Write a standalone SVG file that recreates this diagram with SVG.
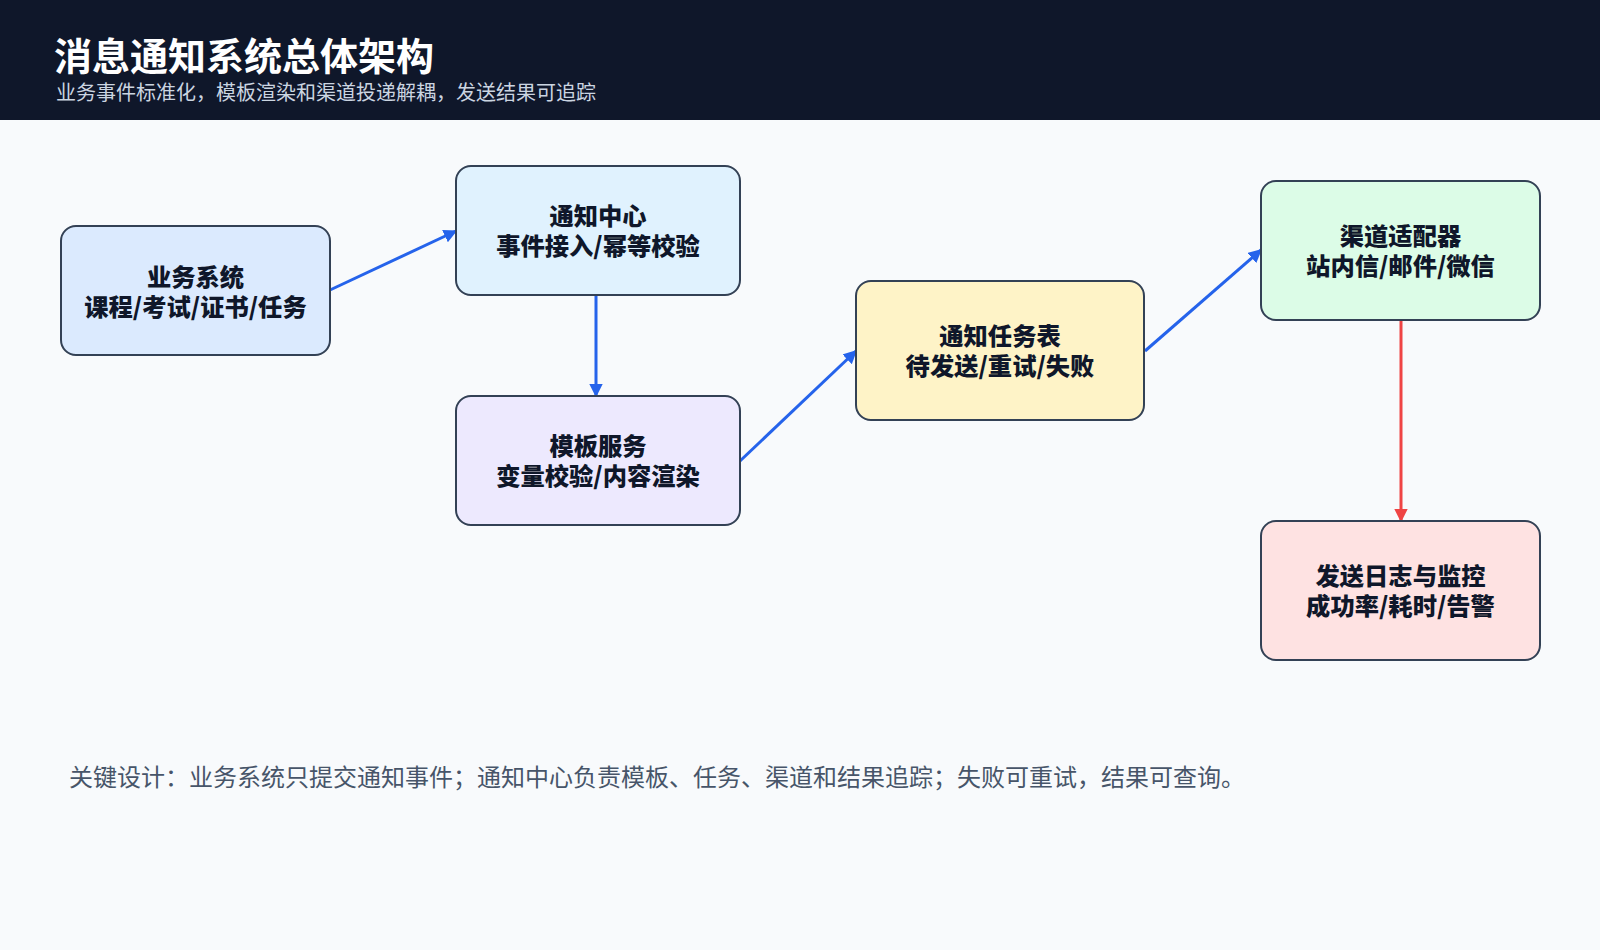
<svg xmlns="http://www.w3.org/2000/svg" width="1600" height="950" viewBox="0 0 1600 950">
<defs>
<style>
.node rect{stroke:#334155;stroke-width:2}
.nt{font-family:"Noto Sans CJK SC","Noto Sans",sans-serif;font-weight:900;font-size:24.3px;fill:#0f172a;text-anchor:middle}
.edge{fill:none;stroke-width:3}
.blue{stroke:#2563eb}
.red{stroke:#ef4444}
</style>
<marker id="ab" viewBox="0 0 10 10" refX="9" refY="5" markerWidth="4.5" markerHeight="4.5" orient="auto" markerUnits="strokeWidth"><path d="M0,0 L10,5 L0,10 z" fill="#2563eb"/></marker>
<marker id="ar" viewBox="0 0 10 10" refX="9" refY="5" markerWidth="4.5" markerHeight="4.5" orient="auto" markerUnits="strokeWidth"><path d="M0,0 L10,5 L0,10 z" fill="#ef4444"/></marker>
</defs>
<rect x="0" y="0" width="1600" height="950" fill="#f8fafc"/>
<g id="header">
<rect x="0" y="0" width="1600" height="120" fill="#0f172a"/>
<text x="54" y="70" font-family="Noto Sans CJK SC, Noto Sans, sans-serif" font-weight="700" font-size="38" fill="#ffffff">消息通知系统总体架构</text>
<text x="56" y="100" font-family="Noto Sans CJK SC, Noto Sans, sans-serif" font-size="20" fill="#cbd5e1">业务事件标准化，模板渲染和渠道投递解耦，发送结果可追踪</text>
</g>
<g id="connectors">
<line class="edge blue" x1="330" y1="290" x2="456" y2="231" marker-end="url(#ab)"/>
<line class="edge blue" x1="596" y1="296" x2="596" y2="396" marker-end="url(#ab)"/>
<line class="edge blue" x1="740" y1="461" x2="856" y2="351" marker-end="url(#ab)"/>
<line class="edge blue" x1="1145" y1="351" x2="1261" y2="250" marker-end="url(#ab)"/>
<line class="edge red" x1="1401" y1="320" x2="1401" y2="521" marker-end="url(#ar)"/>
</g>
<g id="n1" class="node">
<rect x="61" y="226" width="269" height="129" rx="15" fill="#dbeafe"/>
<text class="nt" x="195.5" y="286">业务系统</text>
<text class="nt" x="195.5" y="316">课程/考试/证书/任务</text>
</g>
<g id="n2" class="node">
<rect x="456" y="166" width="284" height="129" rx="15" fill="#e0f2fe"/>
<text class="nt" x="598" y="225">通知中心</text>
<text class="nt" x="598" y="255">事件接入/幂等校验</text>
</g>
<g id="n3" class="node">
<rect x="456" y="396" width="284" height="129" rx="15" fill="#ede9fe"/>
<text class="nt" x="598" y="455">模板服务</text>
<text class="nt" x="598" y="485">变量校验/内容渲染</text>
</g>
<g id="n4" class="node">
<rect x="856" y="281" width="288" height="139" rx="15" fill="#fef3c7"/>
<text class="nt" x="1000" y="345">通知任务表</text>
<text class="nt" x="1000" y="375">待发送/重试/失败</text>
</g>
<g id="n5" class="node">
<rect x="1261" y="181" width="279" height="139" rx="15" fill="#dcfce7"/>
<text class="nt" x="1400.5" y="245">渠道适配器</text>
<text class="nt" x="1400.5" y="275">站内信/邮件/微信</text>
</g>
<g id="n6" class="node">
<rect x="1261" y="521" width="279" height="139" rx="15" fill="#fee2e2"/>
<text class="nt" x="1400.5" y="585">发送日志与监控</text>
<text class="nt" x="1400.5" y="615">成功率/耗时/告警</text>
</g>
<g id="footer">
<text x="69" y="786" font-family="Noto Sans CJK SC, Noto Sans, sans-serif" font-size="24" fill="#475569">关键设计：业务系统只提交通知事件；通知中心负责模板、任务、渠道和结果追踪；失败可重试，结果可查询。</text>
</g>
</svg>
